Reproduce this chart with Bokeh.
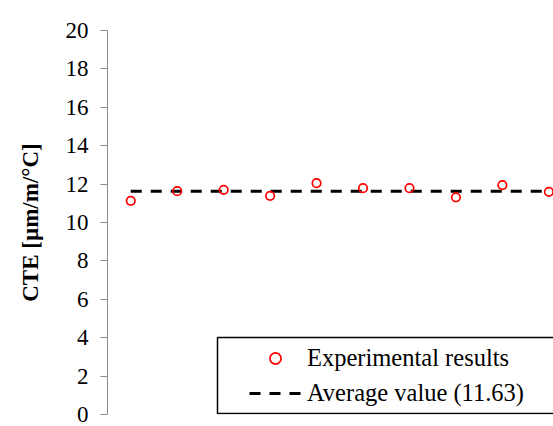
from bokeh.plotting import figure
from bokeh.models import Range1d, FixedTicker, Legend, LegendItem, BoxAnnotation
from bokeh.embed import file_html
from bokeh.resources import INLINE

# ---- data ----
sample_index = [1, 2, 3, 4, 5, 6, 7, 8, 9, 10]
cte_values = [11.13, 11.63, 11.70, 11.39, 12.05, 11.79, 11.79, 11.31, 11.95, 11.60]
average_value = 11.63
y_ticks = [0, 2, 4, 6, 8, 10, 12, 14, 16, 18, 20]
series_label = "Experimental results"
average_label = "Average value (11.63)"
y_label = "CTE [µm/m/°C]"

W, H = 553, 426
p = figure(width=W, height=H, output_backend="svg", toolbar_location=None,
           x_axis_location=None, x_range=Range1d(0.5, 10.1), y_range=Range1d(0, 20),
           min_border_left=107, min_border_right=0, min_border_top=30, min_border_bottom=12)
p.outline_line_color = None
p.xgrid.visible = False
p.ygrid.visible = False
p.background_fill_color = "white"
p.border_fill_color = "white"

ax = p.yaxis[0]
ax.ticker = FixedTicker(ticks=y_ticks)
ax.axis_line_color = "#8c8c8c"
ax.major_tick_line_color = "#8c8c8c"
ax.major_tick_out = 7
ax.major_tick_in = 0
ax.minor_tick_line_color = None
ax.major_label_standoff = 12
ax.major_label_text_font = "Liberation Serif"
ax.major_label_text_font_size = "23px"
ax.major_label_text_color = "black"
ax.axis_label = y_label
ax.axis_label_text_font = "Liberation Serif"
ax.axis_label_text_font_style = "bold"
ax.axis_label_text_font_size = "23px"
ax.axis_label_text_color = "black"
ax.axis_label_standoff = 20

avg_line = p.line(x=[sample_index[0], sample_index[-1]], y=[average_value, average_value],
                  line_color="black", line_width=3, line_dash="11 9")
pts = p.scatter(x=sample_index, y=cte_values, marker="circle", size=8.5,
                line_color="red", line_width=1.7, fill_color=None)

legend = Legend(items=[LegendItem(label=series_label, renderers=[pts]),
                       LegendItem(label=average_label, renderers=[avg_line])],
                location=(137, 2), padding=5, spacing=7,
                glyph_width=52, glyph_height=28, label_height=28, label_standoff=6,
                label_text_font="Liberation Serif", label_text_font_size="24.5px",
                label_text_color="black",
                border_line_alpha=0, background_fill_alpha=0, margin=0)
p.add_layout(legend, "center")

frame_box = BoxAnnotation(left=217, right=600, top=337, bottom=413,
                          left_units="canvas", right_units="canvas",
                          top_units="canvas", bottom_units="canvas",
                          fill_alpha=0, line_color="black", line_alpha=1.0, line_width=1.5,
                          level="annotation")
p.add_layout(frame_box)

open("out.html", "w").write(file_html(p, INLINE))
